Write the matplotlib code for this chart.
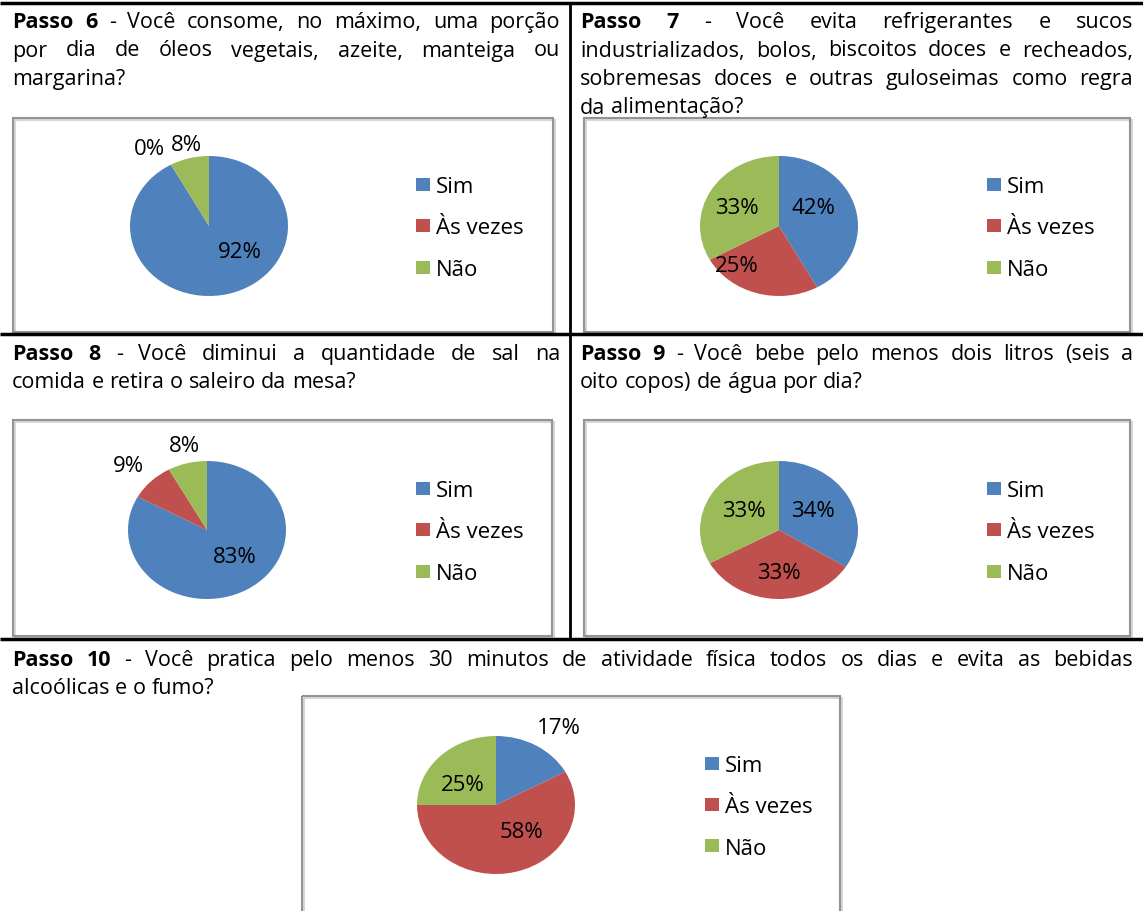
import matplotlib
matplotlib.use("Agg")
import matplotlib.pyplot as plt
from matplotlib.patches import Rectangle

W, H = 1143, 912
BLUE, RED, GREEN = "#4F81BD", "#C0504D", "#9BBB59"

categories = ["Sim", "Às vezes", "Não"]
colors = [BLUE, RED, GREEN]

passo6 = [92, 0, 8]
passo7 = [42, 25, 33]
passo8 = [83, 9, 8]
passo9 = [34, 33, 33]
passo10 = [17, 58, 25]

titulo6 = ["Passo 6|- Você consome, no máximo, uma porção",
           "por dia de óleos vegetais, azeite, manteiga ou",
           "margarina?"]
titulo7 = ["Passo 7|- Você evita refrigerantes e sucos",
           "industrializados, bolos, biscoitos doces e recheados,",
           "sobremesas doces e outras guloseimas como regra",
           "da alimentação?"]
titulo8 = ["Passo 8|- Você diminui a quantidade de sal na",
           "comida e retira o saleiro da mesa?"]
titulo9 = ["Passo 9|- Você bebe pelo menos dois litros (seis a",
           "oito copos) de água por dia?"]
titulo10 = ["Passo 10|- Você pratica pelo menos 30 minutos de atividade física todos os dias e evita as bebidas",
            "alcoólicas e o fumo?"]

FONT = "Open Sans"
TSIZE = 15.5
LSIZE = 16

fig = plt.figure(figsize=(W / 100, H / 100), dpi=100)
bg = fig.add_axes([0, 0, 1, 1])
bg.set_xlim(0, W)
bg.set_ylim(H, 0)
bg.axis("off")
renderer = fig.canvas.get_renderer()


def text_width(s, weight, size=TSIZE):
    t = bg.text(0, 0, s, fontsize=size, fontweight=weight, family=FONT)
    bb = t.get_window_extent(renderer)
    t.remove()
    return bb.width


def draw_title(lines, x0, x1, y0, dy=28.5):
    space = text_width("a a", "normal") - text_width("aa", "normal")
    for i, line in enumerate(lines):
        y = y0 + i * dy
        words = []
        if "|" in line:
            head, rest = line.split("|")
            words += [(w, "bold") for w in head.split()]
            words += [(w, "normal") for w in rest.split()]
        else:
            words += [(w, "normal") for w in line.split()]
        widths = [text_width(w, wt) for w, wt in words]
        if i == len(lines) - 1:
            gap = space
        else:
            gap = (x1 - x0 - sum(widths)) / (len(words) - 1)
        x = x0
        for (w, wt), wd in zip(words, widths):
            bg.text(x, y, w, fontsize=TSIZE, fontweight=wt, family=FONT, va="baseline")
            x += wd + gap


def draw_box(x0, y0, x1, y1):
    bg.add_patch(Rectangle((x0 + 2, y0 + 2), x1 - x0, y1 - y0, fill=False,
                           edgecolor="#d6d6d6", lw=1.5))
    bg.add_patch(Rectangle((x0, y0), x1 - x0, y1 - y0, fill=False,
                           edgecolor="#939393", lw=1.5))


def draw_pie(values, cx, cy, rx, ry, label_pos, leg_x, leg_y):
    ax = fig.add_axes([(cx - rx) / W, 1 - (cy + ry) / H, 2 * rx / W, 2 * ry / H])
    ax.pie(values, colors=colors, startangle=90, counterclock=False,
           radius=1, wedgeprops=dict(linewidth=0))
    ax.set_aspect("auto")
    ax.set_xlim(-1, 1)
    ax.set_ylim(-1, 1)
    ax.axis("off")
    for v, (px, py) in zip(values, label_pos):
        ax.text(px, py, f"{v}%", fontsize=LSIZE, family=FONT, ha="center",
                va="center", color="black", clip_on=False)
    for k, (cat, col) in enumerate(zip(categories, colors)):
        yy = leg_y + k * 41.5
        bg.add_patch(Rectangle((leg_x, yy - 6.5), 14, 13, color=col, lw=0))
        bg.text(leg_x + 20, yy, cat, fontsize=LSIZE, family=FONT, va="center_baseline")


# table rules
for y in (4, 335, 640):
    bg.plot([0, W], [y, y], color="black", lw=2.5, solid_capstyle="butt")
bg.plot([570, 570], [4, 640], color="black", lw=2, solid_capstyle="butt")

draw_title(titulo6, 12, 560, 28)
draw_title(titulo7, 580, 1133, 28)
draw_title(titulo8, 12, 560, 360)
draw_title(titulo9, 580, 1133, 360)
draw_title(titulo10, 12, 1133, 666)

draw_box(13, 119, 553, 333)
draw_box(584, 119, 1130, 333)
draw_box(13, 421, 552, 637)
draw_box(584, 421, 1130, 637)
draw_box(302, 697, 840, 920)

draw_pie(passo6, 209, 227, 79, 70,
         [(0.39, -0.37), (-0.75, 1.10), (-0.29, 1.16)], 416, 185)
draw_pie(passo7, 779, 227, 79, 70,
         [(0.44, 0.26), (-0.53, -0.56), (-0.53, 0.27)], 987, 185)
draw_pie(passo8, 207, 531, 79, 69,
         [(0.35, -0.38), (-0.99, 0.94), (-0.29, 1.23)], 416, 489)
draw_pie(passo9, 779, 531, 79, 69,
         [(0.43, 0.28), (0.0, -0.61), (-0.44, 0.28)], 987, 489)
draw_pie(passo10, 496, 806, 79, 69,
         [(0.80, 1.13), (0.32, -0.39), (-0.42, 0.30)], 705, 764)

fig.savefig("out.png", dpi=100)
